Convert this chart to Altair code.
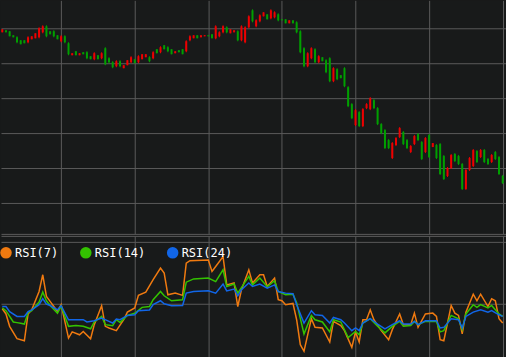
import altair as alt
import pandas as pd

# ---- candlestick data (price units) ----
high = [244,243,242,238,237,233,233,237,237,240,246,248,248,242,243,238,238,238,231,220,
        222,220,221,222,217,221,218,221,226,216,212,213,213,208,213,217,214,218,219,219,
        217,222,224,227,228,227,224,222,223,224,233,238,238,238,238,238,238,239,248,242,
        248,247,244,243,243,248,247,258,264,254,259,261,259,264,262,260,254,254,253,253,
        252,243,226,221,226,225,218,216,214,216,206,205,198,206,187,170,164,162,165,170,
        176,174,166,150,144,134,131,136,146,142,134,128,138,140,132,136,139,130,129,130,
        118,106,119,120,118,110,104,116,124,123,124,124,115,119,122,117,98]
low = [241,241,237,236,230,229,230,230,234,235,235,240,236,239,236,234,231,230,218,218,
       218,218,219,214,214,213,214,214,208,210,205,206,206,205,208,210,210,210,214,216,
       211,214,220,220,224,221,219,220,221,219,221,232,235,235,236,237,237,235,234,236,
       240,240,240,241,232,232,230,245,251,246,251,257,254,254,255,252,253,250,250,250,
       240,220,206,206,214,210,210,212,200,191,191,193,195,186,166,154,147,146,146,164,
       163,164,148,139,124,124,114,127,135,128,124,120,128,132,113,120,115,126,114,98,
       93,96,104,111,108,83,83,102,106,110,115,110,108,110,113,98,89]
open_ = [241,243,242,238,236,233,233,231,234,235,236,241,247,242,242,238,232,237,230,218,
         222,218,221,221,217,214,218,215,225,215,211,207,212,205,208,211,214,211,214,216,
         216,215,224,221,228,226,224,220,223,224,222,233,235,238,236,237,238,239,235,237,
         241,246,240,241,242,233,231,246,263,247,252,257,259,255,256,259,254,254,250,253,
         251,242,225,207,215,224,211,216,213,215,192,204,198,205,186,169,148,161,147,165,
         164,173,165,149,143,133,115,128,136,141,133,121,129,139,131,121,138,126,128,129,
         117,97,105,119,117,109,84,103,107,122,116,123,114,111,121,116,97]
close = [244,241,237,236,231,229,230,236,237,240,245,247,237,239,237,234,237,231,219,220,
         218,220,219,215,214,220,214,220,209,211,206,212,207,208,213,216,210,217,219,219,
         212,221,220,226,224,222,219,222,221,219,232,237,238,235,238,238,237,235,247,241,
         247,241,244,243,233,247,246,257,252,253,258,261,254,263,261,253,253,250,253,250,
         241,221,207,220,225,211,217,212,201,192,205,194,195,187,167,155,163,147,164,169,
         175,165,149,140,125,125,130,135,145,129,125,127,137,133,114,135,116,130,115,99,
         94,105,118,112,109,84,103,115,123,111,123,111,109,118,114,99,90]

# ---- RSI data (index, value) ----
rsi7_idx = [0,1,2,4,6,7,8,10,11,12,13,15,16,18,19,21,22,24,25,27,28,29,31,33,34,36,37,39,41,43,
            44,45,47,49,50,51,56,57,58,60,61,63,64,65,67,68,70,71,72,74,75,76,77,79,80,81,82,84,85,87,
            89,90,92,93,95,96,97,98,99,100,101,103,105,106,108,109,111,112,113,115,117,118,119,120,
            122,123,124,125,126,128,129,130,132,133,134,135,136]
rsi7_val = [47.7,45.2,39.2,33.2,32.2,45.2,47.2,56.1,64.2,53.7,51.3,46.4,49.7,33.5,36.5,35.1,36.7,33.2,40.0,49.2,
            39.2,38.4,37.1,42.4,46.1,48.1,54.2,55.8,61.8,67.4,65.0,54.5,55.3,54.2,69.8,71.0,71.4,65.8,68.2,73.0,
            59.3,60.2,48.8,56.9,66.6,60.2,64.2,64.2,58.5,62.6,52.1,51.6,49.7,50.3,42.4,30.3,27.1,42.9,38.7,38.4,
            31.6,41.6,39.6,37.1,29.0,36.5,31.6,42.4,42.4,47.2,42.4,37.1,32.7,37.6,45.2,40.0,40.0,45.6,38.7,45.2,
            45.6,44.0,32.7,32.2,49.3,45.6,44.5,35.5,46.1,54.8,51.6,54.8,48.8,52.6,51.6,42.9,40.8]
rsi14_idx = [0,1,3,4,5,6,7,8,10,11,12,13,15,16,18,20,22,24,25,27,28,30,31,32,34,36,38,40,41,43,
             44,46,49,50,52,56,58,60,61,63,64,65,67,68,70,72,74,75,77,79,80,82,84,85,87,89,90,92,94,96,
             97,98,100,102,104,106,108,109,111,112,113,115,118,119,120,122,124,125,126,128,129,130,132,133,135,136]
rsi14_val = [48.1,46.8,41.3,41.0,40.7,40.3,45.8,46.8,51.0,55.8,51.6,49.3,45.6,49.0,39.2,39.6,39.2,38.0,41.3,44.0,
             40.0,39.5,42.4,41.1,44.5,45.5,48.4,48.8,52.1,56.1,54.0,51.6,52.1,60.6,62.2,62.6,60.9,66.6,58.5,59.7,
             55.3,58.0,63.4,59.3,62.6,58.4,61.3,56.1,54.5,54.8,50.6,35.5,44.5,42.4,41.3,36.5,42.4,41.3,33.8,36.7,
             35.1,40.8,42.9,39.2,36.0,39.2,41.6,39.2,39.6,41.6,40.0,41.6,41.6,36.5,37.1,44.5,42.9,37.6,45.2,49.7,
             48.4,49.7,48.1,49.3,45.2,44.0]
rsi24_idx = [0,1,2,4,6,7,8,10,11,12,13,15,16,18,20,22,23,25,27,29,30,31,32,34,36,37,40,41,43,44,
             46,49,50,52,56,58,60,61,63,64,65,67,68,70,72,74,75,77,79,80,82,84,85,87,89,90,92,93,95,96,
             97,98,100,102,104,106,108,109,111,112,113,115,118,119,120,122,124,125,126,128,130,132,133,135,136]
rsi24_val = [48.8,48.8,46.3,44.0,44.0,46.3,47.2,49.7,52.6,50.0,49.3,47.2,49.2,42.4,42.4,42.4,41.3,41.9,43.2,41.6,
             40.8,42.7,42.4,44.5,44.8,46.8,47.1,49.7,51.6,50.1,49.2,49.3,55.3,56.1,56.4,55.3,59.7,56.4,57.3,54.0,
             56.9,60.2,58.5,59.7,57.7,59.3,56.1,55.3,55.0,49.7,40.8,46.8,44.8,44.5,40.8,43.5,42.4,40.8,37.1,38.4,
             37.1,40.8,42.9,40.3,38.0,40.0,41.9,40.3,40.3,41.6,40.0,41.9,41.9,38.4,38.7,42.9,42.4,38.4,44.0,46.1,
             47.2,46.1,46.8,44.8,44.0]

series_names = ["RSI(7)", "RSI(14)", "RSI(24)"]
series_colors = ["#f07a10", "#33c200", "#1166e8"]

grid_idx = [16, 36, 56, 76, 96, 116, 136]
price_grid = [39, 70, 105, 140, 175, 210, 245]
rsi_grid = [50, 80, 83.05]

BG = "#181a1a"
GRID = "#5a5a5a"
RED = "#ee0000"
GREEN = "#00a000"

candles = pd.DataFrame({"i": list(range(len(high))), "open": open_, "high": high,
                        "low": low, "close": close})

rows = []
for name, idx, val in [("RSI(7)", rsi7_idx, rsi7_val), ("RSI(14)", rsi14_idx, rsi14_val),
                       ("RSI(24)", rsi24_idx, rsi24_val)]:
    for a, b in zip(idx, val):
        rows.append({"i": a, "rsi": b, "series": name})
rsi = pd.DataFrame(rows)

xscale = alt.Scale(domain=[-0.35, 136.9], nice=False, zero=False, padding=0)
xaxis = alt.Axis(values=grid_idx, labels=False, ticks=False, domain=False, title=None,
                 gridColor=GRID, gridWidth=1, gridOpacity=1)
pscale = alt.Scale(domain=[39, 273], nice=False, zero=False, padding=0)
paxis = alt.Axis(values=price_grid, labels=False, ticks=False, domain=False, title=None,
                 gridColor=GRID, gridWidth=1, gridOpacity=1)

cond = alt.condition("datum.close >= datum.open", alt.value(RED), alt.value(GREEN))

base = alt.Chart(candles)
wick = base.mark_rule(strokeWidth=1).encode(
    x=alt.X("i:Q", scale=xscale, axis=xaxis),
    y=alt.Y("low:Q", scale=pscale, axis=paxis),
    y2="high:Q",
    color=cond,
)
body = base.mark_bar(size=2).encode(
    x=alt.X("i:Q", scale=xscale, axis=xaxis),
    y=alt.Y("open:Q", scale=pscale, axis=paxis),
    y2="close:Q",
    color=cond,
)
top = alt.layer(wick, body).properties(width=506, height=234)

rscale = alt.Scale(domain=[24.5, 83.05], nice=False, zero=False, padding=0)
raxis = alt.Axis(values=rsi_grid, labels=False, ticks=False, domain=False, title=None,
                 gridColor=GRID, gridWidth=1, gridOpacity=1)

color_enc = alt.Color("series:N", sort=series_names,
                      scale=alt.Scale(domain=series_names, range=series_colors),
                      legend=alt.Legend(orient="none", legendX=-1, legendY=247,
                                        direction="horizontal", title=None,
                                        symbolType="circle", symbolSize=133,
                                        symbolStrokeWidth=0, symbolOpacity=1,
                                        labelColor="#ffffff", labelFont="DejaVu Sans Mono",
                                        labelFontSize=12, labelOffset=3, columnPadding=21,
                                        padding=0))

rbase = alt.Chart(rsi).encode(
    x=alt.X("i:Q", scale=xscale, axis=xaxis),
    y=alt.Y("rsi:Q", scale=rscale, axis=raxis),
    color=color_enc,
)
dots = rbase.mark_circle(opacity=0, size=4)
lines = rbase.mark_line(strokeWidth=1.5).encode(order=alt.Order("i:Q"))
bottom = alt.layer(dots, lines).properties(width=506, height=121)

chart = alt.vconcat(top, bottom, spacing=2).properties(
    padding={"left": -1, "top": 0, "right": 0, "bottom": 0}, background=BG
).configure_view(stroke=None, fill=BG)

chart.save("out.html", embed_options={"renderer": "svg", "actions": False})
